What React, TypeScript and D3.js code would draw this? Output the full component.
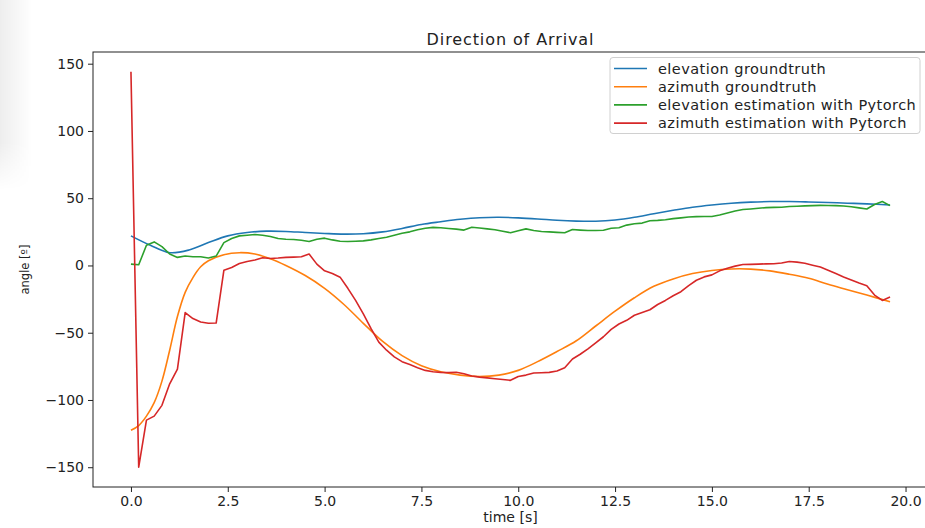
import React, { useEffect, useRef } from 'react';
import * as d3 from 'd3';

const W = 925;
const H = 528;

// estimation series are sampled every 0.2 s, starting at t = 0
const estStep = 0.2;

// [time, angle] samples
const elevationTruth: [number, number][] = [
  [0, 22], [0.5, 15], [1.0, 9.5], [1.5, 11.5], [2.0, 17], [2.5, 22], [3.0, 24.5],
  [3.5, 25.5], [4.0, 25.3], [4.5, 24.5], [5.0, 23.8], [5.5, 23.3], [6.0, 23.6],
  [6.5, 25], [7.0, 27.5], [7.5, 30.5], [8.0, 32.5], [8.5, 34.3], [9.0, 35.5],
  [9.5, 35.8], [10.0, 35.4], [10.5, 34.6], [11.0, 33.6], [11.5, 33], [12.0, 32.9],
  [12.5, 33.8], [13.0, 35.8], [13.5, 38.5], [14.0, 41], [14.5, 43.3], [15.0, 45],
  [15.5, 46.3], [16.0, 47.1], [16.5, 47.5], [17.0, 47.5], [17.5, 47.2], [18.0, 46.8],
  [18.5, 46.3], [19.0, 45.8], [19.6, 45],
];

const azimuthTruth: [number, number][] = [
  [0, -122.5], [0.2, -119], [0.4, -112], [0.6, -102], [0.8, -86], [1.0, -63],
  [1.2, -38], [1.4, -20], [1.6, -9], [1.8, -1], [2.0, 3.5], [2.4, 8], [2.8, 9.5],
  [3.2, 8.5], [3.6, 5], [4.0, 0], [4.5, -7.5], [5.0, -17], [5.5, -29], [6.0, -43],
  [6.5, -56.5], [7.0, -67], [7.5, -74.5], [8.0, -79], [8.5, -81.5], [9.0, -82.5],
  [9.5, -81.5], [10.0, -78], [10.5, -71.5], [11.0, -64], [11.5, -56], [12.0, -45],
  [12.5, -34], [13.0, -24], [13.5, -15.5], [14.0, -10], [14.5, -6], [15.0, -3.7],
  [15.5, -2.6], [16.0, -2.7], [16.5, -4], [17.0, -6.5], [17.5, -9.5], [18.0, -14],
  [18.5, -18], [19.0, -22], [19.6, -27],
];

const elevationEst = [
  1, 0.5, 15, 17.5, 14, 8.5, 6, 7, 6.5, 6.5,
  5.5, 7, 17, 20, 22, 22.5, 23, 22.5, 21.5, 20,
  19.5, 19.3, 18.7, 17.8, 19.5, 20.3, 19, 18, 17.8, 18,
  18.3, 19, 20, 21, 22.5, 24, 25, 26.5, 27.7, 28.3,
  28, 27.5, 27, 26.3, 28.4, 27.8, 27.2, 26.6, 25.5, 24.3,
  25.8, 27.2, 26, 25.3, 25, 24.6, 24.3, 26.7, 26.3, 26,
  26, 26.2, 27.7, 28, 30, 31, 31.5, 33.2, 33.5, 34,
  34.8, 35.4, 36, 36.3, 36.4, 36.4, 37.5, 39, 40.5, 41.6,
  42, 42.5, 43, 43.2, 43.3, 43.8, 44, 44.3, 44.5, 44.7,
  44.6, 44.5, 44.2, 43.6, 42.8, 42, 45.3, 47.5, 44.5,
];

const azimuthEst = [
  144, -150, -115, -112, -104, -88, -77, -35, -39.5, -42,
  -43, -42.8, -3.5, -1.5, 1.5, 3, 4, 5.7, 5.2, 5.5,
  6, 6.2, 6.5, 8.5, 1, -4, -6, -8.7, -17, -26,
  -36, -47, -57, -63, -68, -71.5, -73.7, -76, -78, -79,
  -79.5, -79.7, -79.4, -80.5, -82.2, -83, -83.6, -84.2, -84.8, -85.4,
  -82.5, -81.5, -80, -79.8, -79.5, -78.5, -76, -69.5, -66, -62,
  -57.5, -53, -47.5, -43.5, -40.8, -37, -35, -32.9, -29, -26,
  -22.5, -19.5, -15, -11, -8.5, -7, -4, -2, -0.5, 0.7,
  0.8, 1, 1.2, 1.3, 1.8, 3, 2.5, 1.7, 0.2, -1.2,
  -3.5, -6, -8.5, -10.8, -13, -15, -22, -26, -23.5,
];

const seriesNames = [
  'elevation groundtruth',
  'azimuth groundtruth',
  'elevation estimation with Pytorch',
  'azimuth estimation with Pytorch',
];
const seriesColors = ['#1f77b4', '#ff7f0e', '#2ca02c', '#d62728'];

const xTicks = [0, 2.5, 5, 7.5, 10, 12.5, 15, 17.5, 20];
const yTicks = [-150, -100, -50, 0, 50, 100, 150];

const FONT = 'DejaVu Sans, sans-serif';

const DOAChart = () => {
  const svgRef = useRef<SVGSVGElement>(null);

  useEffect(() => {
    const svg = d3.select(svgRef.current);
    svg.selectAll('*').remove();

    const margin = { top: 52, right: -3, bottom: 41, left: 93 };
    const width = W - margin.left - margin.right;
    const height = H - margin.top - margin.bottom;

    const est = (vals: number[]) => vals.map((v, i) => [i * estStep, v] as [number, number]);
    const series: [number, number][][] = [
      elevationTruth,
      azimuthTruth,
      est(elevationEst),
      est(azimuthEst),
    ];

    // matplotlib-like 5% margins around the data
    const all = series.flat();
    const [x0, x1] = d3.extent(all, d => d[0]) as [number, number];
    const [y0, y1] = d3.extent(all, d => d[1]) as [number, number];
    const px = (x1 - x0) * 0.05;
    const py = (y1 - y0) * 0.05;

    const x = d3.scaleLinear().domain([x0 - px, x1 + px]).range([0, width]);
    const y = d3.scaleLinear().domain([y0 - py, y1 + py]).range([height, 0]);

    // faint shadow at the left edge of the screenshot
    const defs = svg.append('defs');
    const grad = defs.append('linearGradient').attr('id', 'shade');
    grad.append('stop').attr('offset', '0%').attr('stop-color', '#000').attr('stop-opacity', 0.07);
    grad.append('stop').attr('offset', '100%').attr('stop-color', '#000').attr('stop-opacity', 0);
    const vgrad = defs.append('linearGradient').attr('id', 'shadeFade')
      .attr('x1', 0).attr('y1', 0).attr('x2', 0).attr('y2', 1);
    vgrad.append('stop').attr('offset', '0%').attr('stop-color', '#fff').attr('stop-opacity', 1);
    vgrad.append('stop').attr('offset', '75%').attr('stop-color', '#fff').attr('stop-opacity', 1);
    vgrad.append('stop').attr('offset', '100%').attr('stop-color', '#fff').attr('stop-opacity', 0);
    defs.append('mask').attr('id', 'shadeMask')
      .append('rect').attr('width', 32).attr('height', 190).attr('fill', 'url(#shadeFade)');
    svg.append('rect').attr('width', 32).attr('height', 190)
      .attr('fill', 'url(#shade)').attr('mask', 'url(#shadeMask)');

    const g = svg.append('g').attr('transform', `translate(${margin.left},${margin.top})`);

    // lines
    const smooth = d3.line<[number, number]>()
      .x(d => x(d[0])).y(d => y(d[1]))
      .curve(d3.curveCatmullRom.alpha(0.5));
    const straight = d3.line<[number, number]>()
      .x(d => x(d[0])).y(d => y(d[1]));

    series.forEach((s, i) => {
      g.append('path')
        .datum(s)
        .attr('fill', 'none')
        .attr('stroke', seriesColors[i])
        .attr('stroke-width', 1.6)
        .attr('stroke-linejoin', 'round')
        .attr('d', i < 2 ? smooth(s) : straight(s));
    });

    // frame
    g.append('rect')
      .attr('width', width).attr('height', height)
      .attr('fill', 'none').attr('stroke', '#222').attr('stroke-width', 1);

    // y axis
    const yAxis = g.append('g')
      .call(d3.axisLeft(y).tickValues(yTicks).tickSize(5).tickSizeOuter(0).tickPadding(4)
        .tickFormat(d3.format('d')));
    yAxis.select('.domain').remove();
    yAxis.selectAll('line').attr('stroke', '#222');
    yAxis.selectAll('text').attr('font-family', FONT).attr('font-size', 14).attr('fill', '#222');

    // x axis
    const xAxis = g.append('g')
      .attr('transform', `translate(0,${height})`)
      .call(d3.axisBottom(x).tickValues(xTicks).tickSize(5).tickSizeOuter(0).tickPadding(4)
        .tickFormat(d3.format('.1f')));
    xAxis.select('.domain').remove();
    xAxis.selectAll('line').attr('stroke', '#222');
    xAxis.selectAll('text').attr('font-family', FONT).attr('font-size', 14).attr('fill', '#222');

    // labels
    svg.append('text')
      .attr('x', margin.left + width / 2).attr('y', 45)
      .attr('text-anchor', 'middle')
      .attr('font-family', FONT).attr('font-size', 16).attr('letter-spacing', 0.9)
      .attr('fill', '#222')
      .text('Direction of Arrival');

    svg.append('text')
      .attr('x', margin.left + width / 2).attr('y', 522)
      .attr('text-anchor', 'middle')
      .attr('font-family', FONT).attr('font-size', 14).attr('fill', '#222')
      .text('time [s]');

    svg.append('text')
      .attr('transform', `translate(29,${margin.top + height / 2}) rotate(-90)`)
      .attr('text-anchor', 'middle')
      .attr('font-family', FONT).attr('font-size', 11.5).attr('fill', '#222')
      .text('angle [º]');

    // legend
    const lg = svg.append('g').attr('transform', 'translate(610,57.5)');
    lg.append('rect')
      .attr('width', 310).attr('height', 76).attr('rx', 3)
      .attr('fill', '#fff').attr('fill-opacity', 0.8)
      .attr('stroke', '#d0d0d0').attr('stroke-width', 1);
    seriesNames.forEach((name, i) => {
      const row = lg.append('g').attr('transform', `translate(0,${11 + i * 18.2})`);
      row.append('line')
        .attr('x1', 4).attr('x2', 37)
        .attr('stroke', seriesColors[i]).attr('stroke-width', 1.6);
      row.append('text')
        .attr('x', 48).attr('dy', '0.35em')
        .attr('font-family', FONT).attr('font-size', 14.5).attr('letter-spacing', 0.45)
        .attr('fill', '#222')
        .text(name);
    });
  }, []);

  return (
    <svg
      ref={svgRef}
      width={W}
      height={H}
      style={{ position: 'absolute', left: 0, top: 0, background: '#fff' }}
    />
  );
};

export default function App() {
  return <DOAChart />;
}
